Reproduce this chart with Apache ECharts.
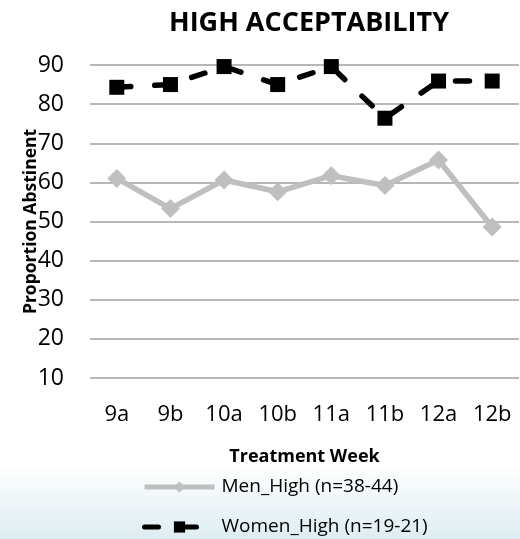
<!DOCTYPE html>
<html>
<head>
<meta charset="utf-8">
<script src="https://cdn.jsdelivr.net/npm/echarts@6/dist/echarts.min.js"></script>
<style>html,body{margin:0;padding:0;background:#fff}#c{width:520px;height:539px}</style>
</head>
<body>
<div id="c"></div>
<script>
const categories = ['9a','9b','10a','10b','11a','11b','12a','12b'];
const menHigh = [61.0, 53.3, 60.6, 57.6, 61.7, 59.2, 65.7, 48.6];
const womenHigh = [84.3, 85.0, 89.6, 85.0, 89.6, 76.4, 85.9, 85.9];
const yTicks = [10, 20, 30, 40, 50, 60, 70, 80, 90];
const seriesNames = ['Men_High (n=38-44)', 'Women_High (n=19-21)'];

const FONT = '"Open Sans", sans-serif';
const chart = echarts.init(document.getElementById('c'), null, {renderer: 'canvas'});
chart.setOption({
  animation: false,
  backgroundColor: new echarts.graphic.LinearGradient(0, 0, 0, 1, [
    {offset: 0, color: '#ffffff'},
    {offset: 0.86, color: '#ffffff'},
    {offset: 1, color: '#deedf2'}
  ]),
  title: {
    text: 'HIGH ACCEPTABILITY',
    left: 304, top: 5, textAlign: 'center',
    textStyle: {fontFamily: FONT, fontWeight: 'bold', fontSize: 27, color: '#000'}
  },
  grid: {left: 90, right: 1, top: 65, bottom: 161, containLabel: false},
  legend: {
    orient: 'vertical',
    left: 142, top: 477,
    padding: 0,
    itemWidth: 70, itemHeight: 14, itemGap: 20,
    lineStyle: {width: 5},
    textStyle: {fontFamily: FONT, fontSize: 19, lineHeight: 20, color: '#000', padding: [0, 0, 0, 2]},
    data: seriesNames
  },
  xAxis: {
    type: 'category',
    data: categories,
    boundaryGap: true,
    name: 'Treatment Week',
    nameLocation: 'middle',
    nameGap: 70,
    nameMoveOverlap: false,
    nameTextStyle: {fontFamily: FONT, fontWeight: 'bold', fontSize: 18, color: '#000'},
    axisLine: {show: false},
    axisTick: {show: false},
    axisLabel: {fontFamily: FONT, fontSize: 22, color: '#000', margin: 26}
  },
  yAxis: {
    type: 'value',
    min: yTicks[0], max: yTicks[yTicks.length - 1], interval: 10,
    name: 'Proportion Abstinent',
    nameLocation: 'middle',
    nameGap: 50,
    nameMoveOverlap: false,
    nameTextStyle: {fontFamily: FONT, fontWeight: 'bold', fontSize: 17.5, color: '#000'},
    axisLine: {show: false},
    axisTick: {show: false},
    axisLabel: {fontFamily: FONT, fontSize: 23, color: '#000', margin: 26},
    splitLine: {lineStyle: {color: '#a0a0a0', width: 1.5}}
  },
  series: [
    {
      name: seriesNames[0],
      type: 'line',
      data: menHigh,
      symbol: 'diamond',
      symbolSize: 19,
      itemStyle: {color: '#bfbfbf'},
      lineStyle: {color: '#bfbfbf', width: 5.5},
      z: 2
    },
    {
      name: seriesNames[1],
      type: 'line',
      data: womenHigh,
      symbol: 'rect',
      symbolSize: 15,
      itemStyle: {color: '#000'},
      lineStyle: {color: '#000', width: 5.5, type: [14, 24], cap: 'round'},
      z: 3
    }
  ]
});
</script>
</body>
</html>
